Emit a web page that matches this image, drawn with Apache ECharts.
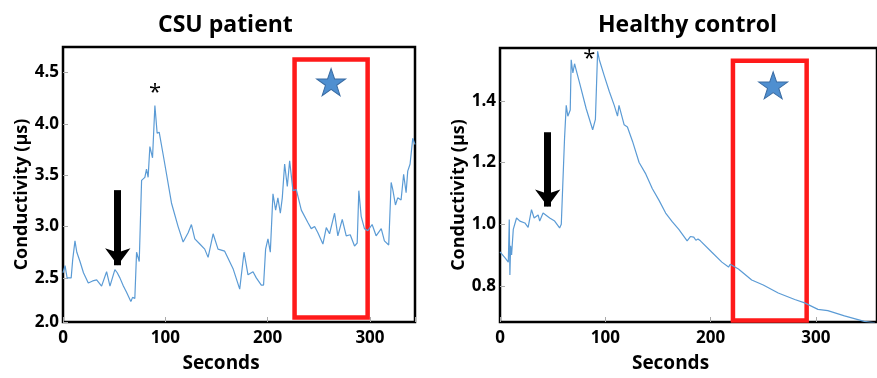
<!DOCTYPE html>
<html>
<head>
<meta charset="utf-8">
<script src="https://cdn.jsdelivr.net/npm/echarts@6/dist/echarts.min.js"></script>
<style>
  html, body { margin: 0; padding: 0; background: #fff; }
  #chart { width: 877px; height: 378px; }
</style>
</head>
<body>
<div id="chart"></div>
<script>
// CSU patient trace (seconds, conductivity)
const csuSeconds = [0, 2, 4, 8, 9.5, 11.7, 13.5, 16.6, 20, 24.7, 29, 32.9, 37.7, 42.6, 45.9, 50.7, 53, 55.6, 59, 62.1,
  66.3, 68, 70.2, 71.9, 74.5, 76.8, 80, 81.6, 83.2, 84.9, 87.5, 89.8, 92, 94, 97.9, 101.2, 106, 112.5, 117.4, 122.3,
  125.5, 128.8, 133.7, 138.5, 141.8, 146.7, 151.5, 158, 166.2, 172.7, 176.9, 180.8, 185.7, 188.9, 193.8, 196, 198,
  200.3, 202.6, 205.2, 207.8, 210, 212.4, 214.3, 216.6, 219.2, 221.5, 224.7, 228, 232.9, 239.3, 242.6, 245.9, 249.1,
  254, 257.3, 260.5, 265.4, 268.6, 272.9, 276.8, 280.7, 284.9, 287.5, 289.1, 291.4, 294.6, 297.9, 302.1, 306, 311,
  314.1, 318.3, 320.7, 322.3, 324.9, 327.1, 330.4, 332.9, 335.3, 336.9, 339.2, 341.8, 344];
const csuValues = [2.55, 2.62, 2.5, 2.5, 2.68, 2.86, 2.75, 2.66, 2.55, 2.45, 2.47, 2.48, 2.42, 2.56, 2.42, 2.58, 2.55, 2.5, 2.42, 2.36,
  2.27, 2.31, 2.3, 2.75, 2.66, 3.45, 3.48, 3.56, 3.48, 3.78, 3.67, 4.18, 3.91, 3.92, 3.7, 3.51, 3.23, 3.0, 2.85, 2.94,
  3.02, 2.88, 2.83, 2.78, 2.7, 2.93, 2.78, 2.76, 2.59, 2.39, 2.75, 2.53, 2.56, 2.5, 2.43, 2.43, 2.78,
  2.88, 2.75, 3.32, 3.16, 3.28, 3.13, 3.28, 3.61, 3.39, 3.64, 3.35, 3.36, 3.16, 3.04, 2.98, 3.0, 2.94,
  2.83, 2.99, 2.93, 3.13, 2.91, 3.07, 2.91, 2.92, 2.81, 2.84, 3.35, 3.1, 2.98, 2.96, 3.02, 2.91, 2.98,
  2.86, 2.82, 3.43, 3.36, 3.21, 3.28, 3.26, 3.51, 3.33, 3.54, 3.61, 3.86, 3.8];

// Healthy control trace
const ctrlSeconds = [0, 1.6, 5, 7.9, 8.8, 9.4, 10.1, 11, 12.6, 15.7, 18.9, 23.6, 26.7, 29.9, 32.4, 36.2, 37.7, 40.9, 47.2,
  51.9, 56.6, 58.2, 61.3, 62.9, 64.4, 66.7, 67.6, 69.2, 70.8, 72.3, 75.5, 81.8, 88, 90.6, 92.7, 94.3, 99.1, 103.8,
  108.5, 110, 111.6, 113, 117.9, 121, 125.8, 132.1, 138.4, 144.7, 150.9, 157.3, 163.5, 169.8, 177.7, 180.8, 184, 186,
  188, 190.3, 201.2, 210.7, 217, 218.6, 226.4, 239, 250, 264.2, 279.9, 289.3, 301.9, 311.3, 327.1, 345.9, 356];
const ctrlValues = [0.91, 0.904, 0.89, 0.877, 1.015, 0.835, 0.93, 0.9, 0.983, 1.02, 1.01, 1.004, 0.99, 1.047, 1.02, 1.03, 1.01, 1.036, 1.02,
  1.01, 0.988, 1.0, 1.279, 1.385, 1.35, 1.37, 1.533, 1.49, 1.52, 1.5, 1.459, 1.375, 1.306, 1.34, 1.56, 1.533, 1.48, 1.43,
  1.385, 1.38, 1.35, 1.385, 1.322, 1.315, 1.269, 1.2, 1.163, 1.115, 1.078, 1.036, 1.008, 0.983, 0.946, 0.96, 0.958, 0.948,
  0.952, 0.946, 0.909, 0.877, 0.861, 0.87, 0.855, 0.819, 0.803, 0.777, 0.756, 0.745, 0.724, 0.72, 0.703, 0.685, 0.68];

// axis ticks
const xTicks = [0, 100, 200, 300];
const yTicksA = [2.0, 2.5, 3.0, 3.5, 4.0, 4.5];
const yTicksB = [0.8, 1.0, 1.2, 1.4];

// annotations (data coordinates)
const boxA = [[226.3, 4.628], [297.7, 2.113]];
const boxB = [[221.2, 1.530], [291.2, 0.688]];
const starA = [262, 4.407];
const starB = [259.4, 1.45];
const asteriskA = [90, 4.30];
const asteriskB = [84.9, 1.535];
const arrowA = [[53.5, 3.355], [53.5, 2.623]];
const arrowB = [[45.3, 1.298], [45.3, 1.057]];

const yMinA = 2.07, yMaxA = 4.75;
const yMinB = 0.683, yMaxB = 1.571;

const font = 'Open Sans';
const lineColor = '#5b9bd5';
const starPath = 'path://M50,0 L61.8,35.1 L98.9,35.1 L69,57 L80.2,92.7 L50,71 L19.8,92.7 L31,57 L1.1,35.1 L38.2,35.1 Z';

const chart = echarts.init(document.getElementById('chart'));

const xAxisBase = (gridIndex, max) => ({
  gridIndex,
  type: 'value',
  min: 0,
  max,
  interval: 100,
  name: 'Seconds',
  nameLocation: 'middle',
  nameGap: 32,
  nameTextStyle: { fontFamily: font, fontWeight: 'bold', fontSize: 19, color: '#000', padding: [0, 36, 0, 0] },
  axisLine: { show: false },
  axisTick: { show: true, inside: true, length: 5, lineStyle: { color: '#aaa' } },
  axisLabel: { fontFamily: font, fontWeight: 'bold', fontSize: 17, color: '#000', margin: 8,
    customValues: xTicks },
  splitLine: { show: false }
});

// step: label rounding step of the axis
const yAxisBase = (gridIndex, min, max, ticks, step) => ({
  gridIndex,
  type: 'value',
  min,
  max,
  name: 'Conductivity (µs)',
  nameLocation: 'middle',
  nameGap: 30,
  nameTextStyle: { fontFamily: font, fontWeight: 'bold', fontSize: 18, color: '#000', padding: [0, 20, 0, 0] },
  axisLine: { show: false },
  axisTick: { show: true, inside: true, length: 5, lineStyle: { color: '#aaa' }, customValues: ticks },
  axisLabel: { fontFamily: font, fontWeight: 'bold', fontSize: 17, color: '#000', margin: 4,
    customValues: ticks, formatter: v => (Math.round(v / step) * step).toFixed(1) },
  splitLine: { show: false }
});

const annotations = (box, star, asterisk, arrow) => ({
  markArea: {
    silent: true,
    itemStyle: { color: 'rgba(0,0,0,0)', borderColor: '#ff1a1a', borderWidth: 4.5 },
    data: [[{ coord: box[0] }, { coord: box[1] }]]
  },
  markPoint: {
    silent: true,
    data: [
      { coord: star, symbol: starPath, symbolSize: [29, 27],
        itemStyle: { color: '#4f8fd0', borderColor: '#3a6ca3', borderWidth: 1 }, label: { show: false } },
      { coord: asterisk, symbol: 'circle', symbolSize: 1, itemStyle: { color: 'rgba(0,0,0,0)' },
        label: { show: true, position: 'inside', formatter: '*', fontSize: 22, color: '#000', fontFamily: font } }
    ]
  },
  markLine: {
    silent: true,
    symbol: ['none', 'arrow'],
    symbolSize: [19, 17],
    lineStyle: { color: '#000', width: 7, type: 'solid' },
    label: { show: false },
    data: [[{ coord: arrow[0] }, { coord: arrow[1] }]]
  }
});

chart.setOption({
  animation: false,
  backgroundColor: '#fff',
  title: [
    { text: 'CSU patient', left: 153, top: 9, textStyle: { fontFamily: font, fontWeight: 'bold', fontSize: 23, color: '#000' } },
    { text: 'Healthy control', left: 593, top: 9, textStyle: { fontFamily: font, fontWeight: 'bold', fontSize: 23, color: '#000' } }
  ],
  grid: [
    { left: 63, width: 352, top: 47, bottom: 50, show: true, borderColor: '#000', borderWidth: 2.5, backgroundColor: 'transparent' },
    { left: 500, right: -3, top: 48, bottom: 50, show: true, borderColor: '#000', borderWidth: 2.5, backgroundColor: 'transparent' }
  ],
  xAxis: [xAxisBase(0, 344), xAxisBase(1, 358)],
  yAxis: [
    yAxisBase(0, yMinA, yMaxA, yTicksA.map(v => Math.max(v, yMinA)), 0.5),
    yAxisBase(1, yMinB, yMaxB, yTicksB, 0.1)
  ],
  series: [
    Object.assign({
      type: 'line',
      xAxisIndex: 0,
      yAxisIndex: 0,
      data: csuSeconds.map((s, i) => [s, csuValues[i]]),
      showSymbol: false,
      lineStyle: { color: lineColor, width: 1.2 },
      itemStyle: { color: lineColor }
    }, annotations(boxA, starA, asteriskA, arrowA)),
    Object.assign({
      type: 'line',
      xAxisIndex: 1,
      yAxisIndex: 1,
      data: ctrlSeconds.map((s, i) => [s, ctrlValues[i]]),
      showSymbol: false,
      lineStyle: { color: lineColor, width: 1.2 },
      itemStyle: { color: lineColor }
    }, annotations(boxB, starB, asteriskB, arrowB))
  ]
});
</script>
</body>
</html>
